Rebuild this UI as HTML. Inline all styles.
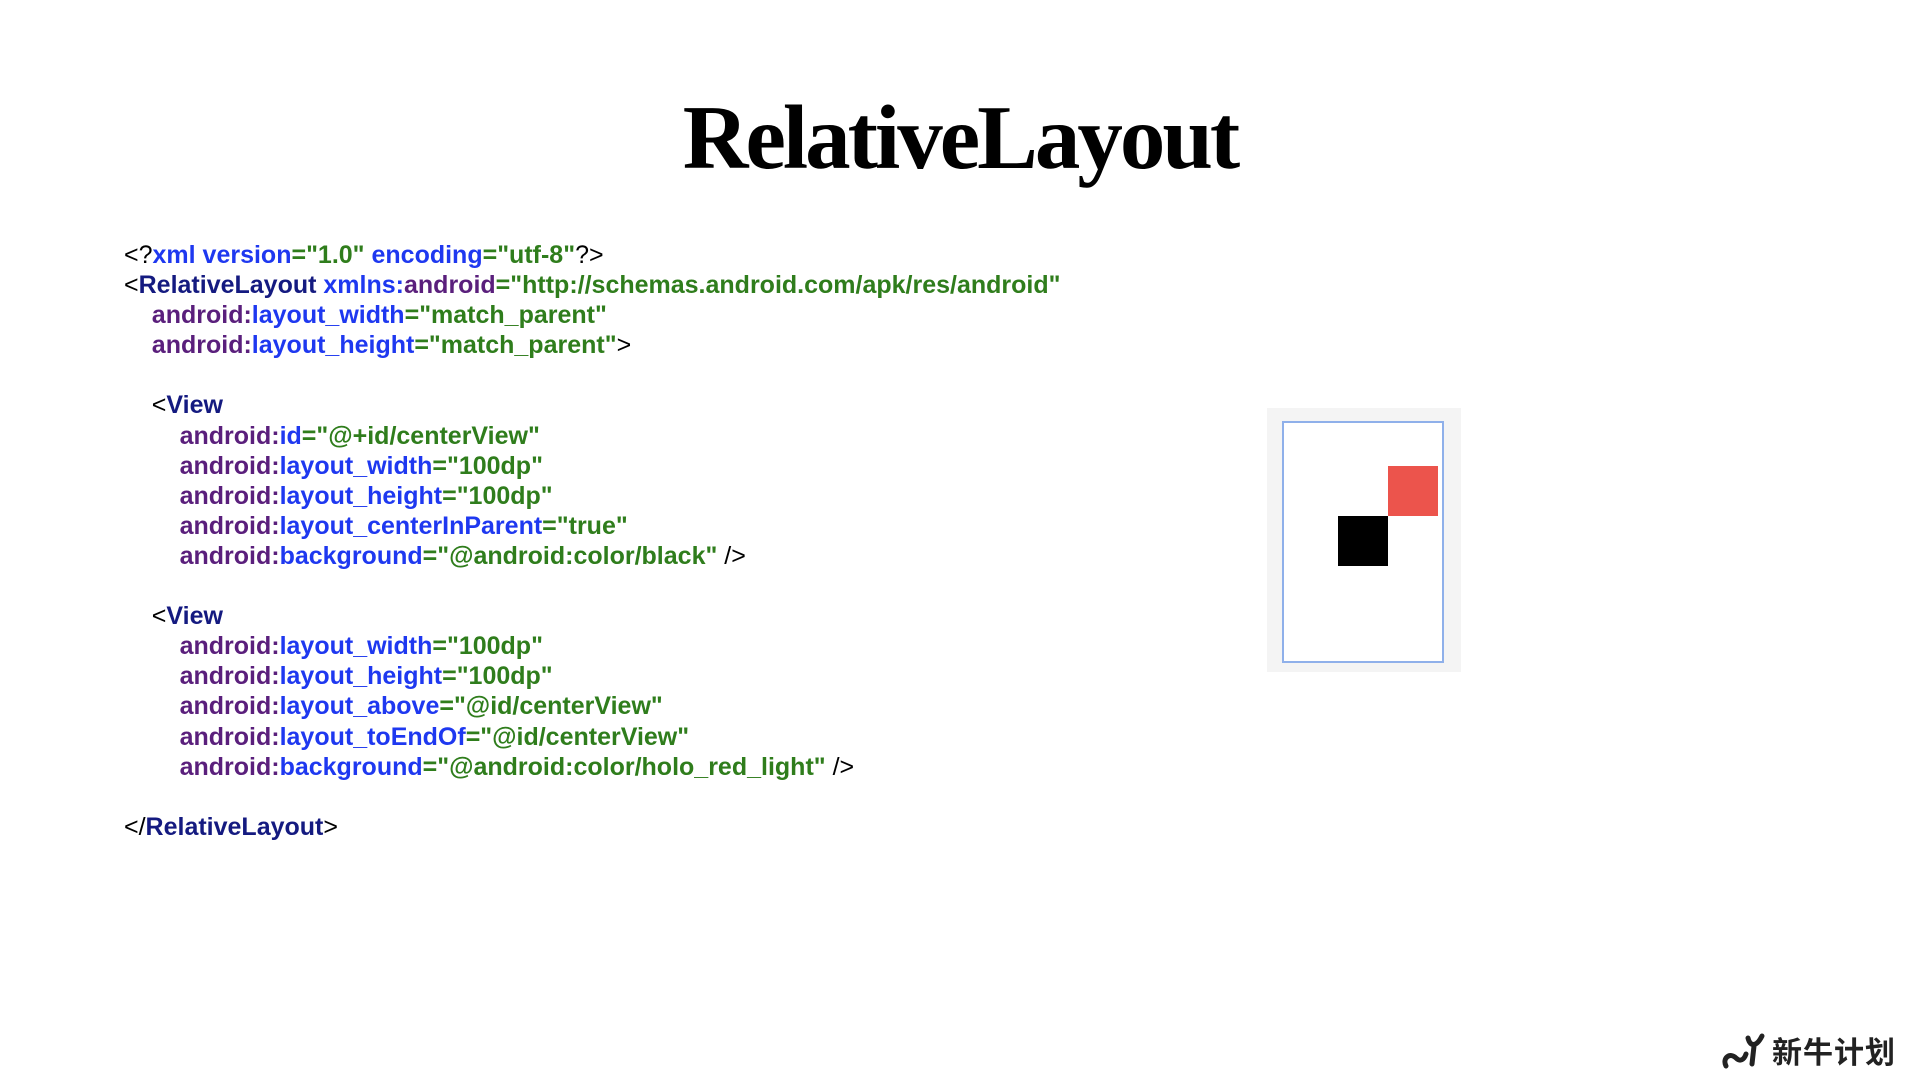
<!DOCTYPE html>
<html><head><meta charset="utf-8"><style>
html,body{margin:0;padding:0;background:#fff;width:1920px;height:1080px;overflow:hidden;position:relative}
.title{position:absolute;left:0;width:1920px;top:78px;text-align:center;font-family:"Liberation Serif",serif;font-weight:bold;font-size:91px;letter-spacing:-3px;color:#000;line-height:120px}
.code{position:absolute;left:124px;top:240px;font-family:"Liberation Sans",sans-serif;font-weight:bold;font-size:25px;line-height:30.1px;white-space:pre;color:#000}
.t{color:#141a80}.a{color:#1e38f0}.p{color:#5a1f7c}.v{color:#2f7d1c}.k{color:#000;font-weight:normal}
.box{position:absolute;left:1267px;top:408px;width:194px;height:264px;background:#f4f4f4}
.in{position:absolute;left:1282px;top:421px;width:158px;height:238px;border:2px solid #8fb0ea;background:#fff}
.red{position:absolute;left:1388px;top:466px;width:50px;height:50px;background:#ec544c}
.blk{position:absolute;left:1338px;top:516px;width:50px;height:50px;background:#000}
.logo{position:absolute;left:1772px;top:1030px;font-family:"Noto Sans CJK SC",sans-serif;font-weight:bold;font-size:30px;color:#222;letter-spacing:1px;line-height:40px}
</style></head><body>
<div class="title">RelativeLayout</div>
<div class="code"><span class="k">&lt;?</span><span class="a">xml version</span><span class="v">="1.0"</span> <span class="a">encoding</span><span class="v">="utf-8"</span><span class="k">?&gt;</span>
<span class="k">&lt;</span><span class="t">RelativeLayout</span> <span class="a">xmlns:</span><span class="p">android</span><span class="v">="http://schemas.android.com/apk/res/android"</span>
    <span class="p">android:</span><span class="a">layout_width</span><span class="v">="match_parent"</span>
    <span class="p">android:</span><span class="a">layout_height</span><span class="v">="match_parent"</span><span class="k">&gt;</span>

    <span class="k">&lt;</span><span class="t">View</span>
        <span class="p">android:</span><span class="a">id</span><span class="v">="@+id/centerView"</span>
        <span class="p">android:</span><span class="a">layout_width</span><span class="v">="100dp"</span>
        <span class="p">android:</span><span class="a">layout_height</span><span class="v">="100dp"</span>
        <span class="p">android:</span><span class="a">layout_centerInParent</span><span class="v">="true"</span>
        <span class="p">android:</span><span class="a">background</span><span class="v">="@android:color/black"</span> <span class="k">/&gt;</span>

    <span class="k">&lt;</span><span class="t">View</span>
        <span class="p">android:</span><span class="a">layout_width</span><span class="v">="100dp"</span>
        <span class="p">android:</span><span class="a">layout_height</span><span class="v">="100dp"</span>
        <span class="p">android:</span><span class="a">layout_above</span><span class="v">="@id/centerView"</span>
        <span class="p">android:</span><span class="a">layout_toEndOf</span><span class="v">="@id/centerView"</span>
        <span class="p">android:</span><span class="a">background</span><span class="v">="@android:color/holo_red_light"</span> <span class="k">/&gt;</span>

<span class="k">&lt;/</span><span class="t">RelativeLayout</span><span class="k">&gt;</span></div>
<div class="box"></div><div class="in"></div><div class="red"></div><div class="blk"></div>
<svg style="position:absolute;left:1722px;top:1030px" width="50" height="40" viewBox="0 0 50 40"><path d="M4 36 C0 28 8 22 14 28 C18 32 22 30 24 24 M26 8 C28 16 34 18 40 6 M32 16 L30 34" stroke="#222" stroke-width="5" fill="none" stroke-linecap="round"/></svg>
<div class="logo">新牛计划</div>
</body></html>
